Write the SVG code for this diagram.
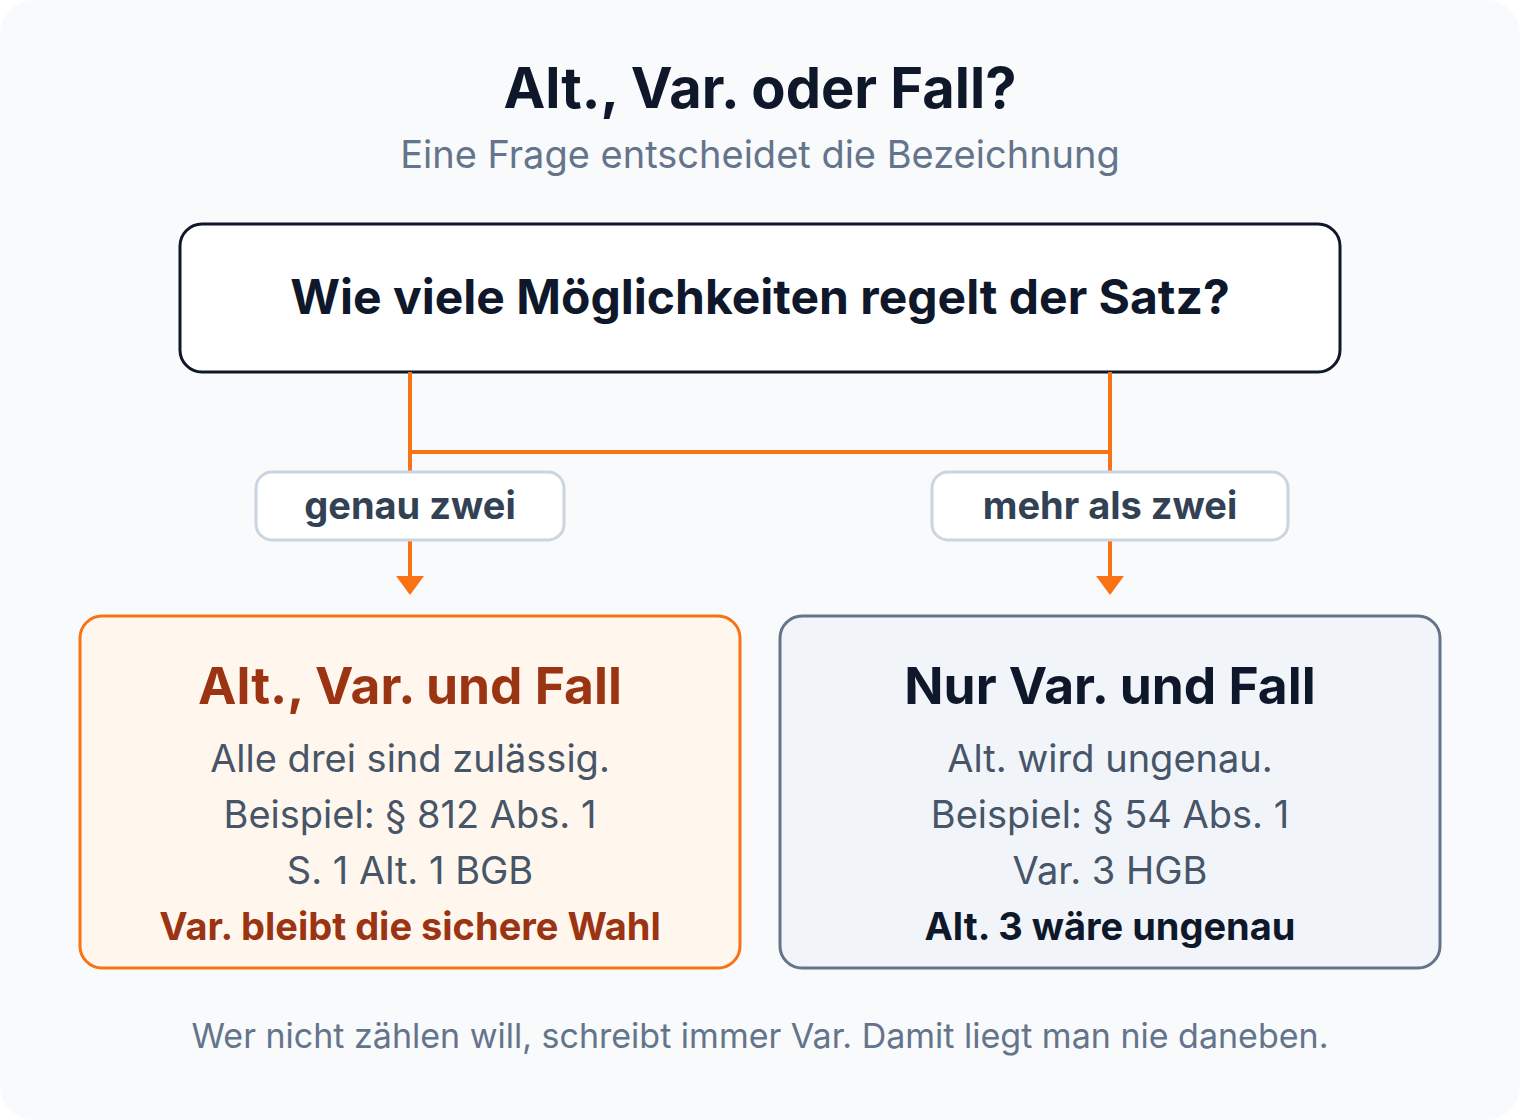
<svg xmlns="http://www.w3.org/2000/svg" width="1520" height="1120" viewBox="0 0 1520 1120">
<defs>
<style>
text{font-family:Inter,"Noto Sans","Liberation Sans",sans-serif;text-anchor:middle}
.title{font-size:56px;font-weight:700;fill:#0f172a}
.sub{font-size:38px;fill:#64748b}
.q{font-size:48px;font-weight:700;fill:#0f172a}
.lbl{font-size:38px;font-weight:700;fill:#334155}
.pill{fill:#ffffff;stroke:#cbd5e1;stroke-width:3}
.h{font-size:51.5px;font-weight:700}
.body{font-size:38px;fill:#475569}
.em{font-size:38px;font-weight:700}
.foot{font-size:34px;fill:#64748b}
.conn{fill:none;stroke:#f97316;stroke-width:4}
.head{fill:#f97316}
</style>
</defs>
<rect x="0" y="0" width="1520" height="1120" rx="34" fill="#f8fafc"/>
<g id="header">
<text class="title" x="760" y="108">Alt., Var. oder Fall?</text>
<text class="sub" x="760" y="168">Eine Frage entscheidet die Bezeichnung</text>
</g>
<g id="question">
<rect x="180" y="224" width="1160" height="148" rx="22" fill="#ffffff" stroke="#0f172a" stroke-width="3"/>
<text class="q" x="760" y="314">Wie viele Möglichkeiten regelt der Satz?</text>
</g>
<g id="connectors">
<path class="conn" d="M410 372 V578"/>
<path class="conn" d="M1110 372 V578"/>
<path class="conn" d="M410 452 H1110"/>
<path class="head" d="M396 576 L424 576 L410 595 Z"/>
<path class="head" d="M1096 576 L1124 576 L1110 595 Z"/>
</g>
<g id="label-two">
<rect class="pill" x="256" y="472" width="308" height="68" rx="16"/>
<text class="lbl" x="410" y="519">genau zwei</text>
</g>
<g id="label-more">
<rect class="pill" x="932" y="472" width="356" height="68" rx="16"/>
<text class="lbl" x="1110" y="519">mehr als zwei</text>
</g>
<g id="left">
<rect x="80" y="616" width="660" height="352" rx="22" fill="#fff7ed" stroke="#f97316" stroke-width="3"/>
<text class="h" x="410" y="704" fill="#9a3412">Alt., Var. und Fall</text>
<text class="body" x="410" y="772">Alle drei sind zulässig.</text>
<text class="body" x="410" y="828">Beispiel: § 812 Abs. 1</text>
<text class="body" x="410" y="884">S. 1 Alt. 1 BGB</text>
<text class="em" x="410" y="940" fill="#9a3412">Var. bleibt die sichere Wahl</text>
</g>
<g id="right">
<rect x="780" y="616" width="660" height="352" rx="22" fill="#f1f5f9" stroke="#64748b" stroke-width="3"/>
<text class="h" x="1110" y="704" fill="#0f172a">Nur Var. und Fall</text>
<text class="body" x="1110" y="772">Alt. wird ungenau.</text>
<text class="body" x="1110" y="828">Beispiel: § 54 Abs. 1</text>
<text class="body" x="1110" y="884">Var. 3 HGB</text>
<text class="em" x="1110" y="940" fill="#0f172a">Alt. 3 wäre ungenau</text>
</g>
<g id="footer">
<text class="foot" x="760" y="1048">Wer nicht zählen will, schreibt immer Var. Damit liegt man nie daneben.</text>
</g>
</svg>
